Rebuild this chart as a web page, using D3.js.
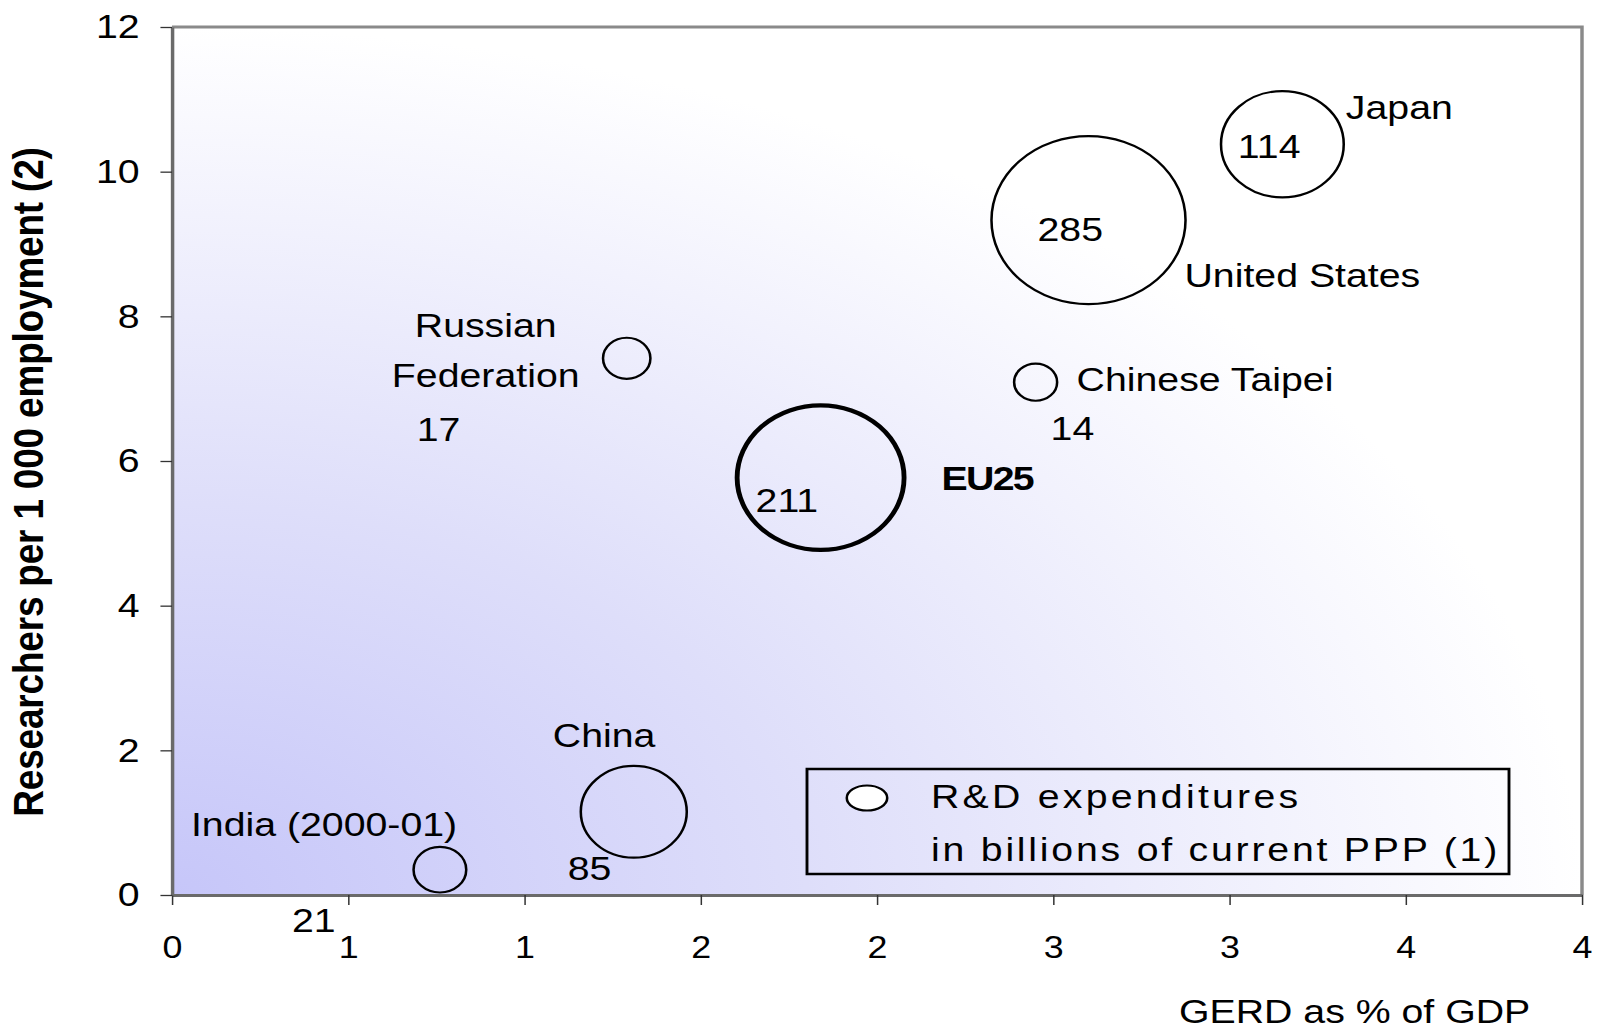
<!DOCTYPE html>
<html>
<head>
<meta charset="utf-8">
<script src="https://cdn.jsdelivr.net/npm/d3@7"></script>
<style>
  body { margin: 0; background: #ffffff; }
  svg { display: block; }
  text { font-family: "Liberation Sans", Arial, sans-serif; fill: #000; }
</style>
</head>
<body>
<div id="chart"></div>
<script>
// data
var countries   = ["India (2000-01)", "China", "Russian Federation", "EU25", "Chinese Taipei", "United States", "Japan"];
var gerd        = [0.76, 1.31, 1.29, 1.84, 2.45, 2.60, 3.15];   // GERD as % of GDP
var researchers = [0.35, 1.15, 7.42, 5.77, 7.09, 9.33, 10.38];  // per 1 000 employment
var rdSpend     = [21, 85, 17, 211, 14, 285, 114];              // billions of current PPP

var xTickValues = [0, 0.5, 1, 1.5, 2, 2.5, 3, 3.5, 4];
var xTickLabels = ["0", "1", "1", "2", "2", "3", "3", "4", "4"];
var yTickValues = [0, 2, 4, 6, 8, 10, 12];

var data = countries.map(function(c, i) {
  return {name: c, x: gerd[i], y: researchers[i], v: rdSpend[i]};
});

// the original picture is stretched sideways, so we draw in a narrower
// user space and let the viewBox stretch it back out
var W = 1599, H = 1031, S = 1.155;

var svg = d3.select("#chart").append("svg")
  .attr("width", W)
  .attr("height", H)
  .attr("viewBox", "0 0 " + (W / S) + " " + H)
  .attr("preserveAspectRatio", "none");

var x = d3.scaleLinear().domain([0, 4]).range([172 / S, 1582 / S]);
var y = d3.scaleLinear().domain([0, 12]).range([895, 27]);
var r = d3.scaleSqrt().domain([0, 285]).range([0, 84]);

// background gradient, from the bottom-left corner
var defs = svg.append("defs");
var grad = defs.append("radialGradient")
  .attr("id", "bg")
  .attr("cx", 0).attr("cy", 1).attr("r", 1)
  .attr("fx", 0).attr("fy", 1);
grad.append("stop").attr("offset", "0%").attr("stop-color", "#c6c6f9");
grad.append("stop").attr("offset", "45%").attr("stop-color", "#dedefa");
grad.append("stop").attr("offset", "100%").attr("stop-color", "#ffffff");

svg.append("rect")
  .attr("x", x(0)).attr("y", y(12))
  .attr("width", x(4) - x(0)).attr("height", y(0) - y(12))
  .attr("fill", "url(#bg)");

// top and right border of plot area
svg.append("path")
  .attr("d", "M" + x(0) + "," + y(12) + "H" + x(4) + "V" + y(0))
  .attr("fill", "none")
  .attr("stroke", "#8a8a8a")
  .attr("stroke-width", 3);

// axes
var xAxis = svg.append("g")
  .attr("transform", "translate(0," + y(0) + ")")
  .call(d3.axisBottom(x).tickValues(xTickValues)
    .tickFormat(function(d, i) { return xTickLabels[i]; })
    .tickSize(10).tickSizeOuter(0));
xAxis.select(".domain").attr("stroke", "#6a6a6a").attr("stroke-width", 3);
xAxis.selectAll(".tick line").attr("stroke", "#333").attr("stroke-width", 1.3);
xAxis.selectAll("text")
  .attr("y", 63).attr("dy", 0)
  .style("font-size", "31px")
  .style("font-family", "'Liberation Sans', Arial, sans-serif")
  .attr("fill", "#000");

var yAxis = svg.append("g")
  .attr("transform", "translate(" + x(0) + ",0)")
  .call(d3.axisLeft(y).tickValues(yTickValues)
    .tickSize(10).tickPadding(18).tickSizeOuter(0));
yAxis.select(".domain").attr("stroke", "#6a6a6a").attr("stroke-width", 3);
yAxis.selectAll(".tick line").attr("stroke", "#333").attr("stroke-width", 1.3);
yAxis.selectAll("text")
  .style("font-size", "34px")
  .style("font-family", "'Liberation Sans', Arial, sans-serif")
  .attr("fill", "#000");

// axis titles
svg.append("text")
  .attr("transform", "translate(" + (43 / S) + ",482) rotate(-90)")
  .attr("text-anchor", "middle")
  .style("font-size", "37px")
  .style("font-weight", "bold")
  .style("letter-spacing", "-0.2px")
  .text("Researchers per 1 000 employment (2)");

svg.append("text")
  .attr("x", 1179 / S).attr("y", 1023)
  .style("font-size", "34px")
  .text("GERD as % of GDP");

// bubbles
svg.selectAll("circle.bubble")
  .data(data)
  .enter()
  .append("circle")
    .attr("class", "bubble")
    .attr("cx", function(d) { return x(d.x); })
    .attr("cy", function(d) { return y(d.y); })
    .attr("r", function(d) { return r(d.v); })
    .attr("fill", "none")
    .attr("stroke", "#000")
    .attr("stroke-width", function(d) { return d.name == "EU25" ? 4.2 : 2.2; });

// hand placed labels, offsets in screen pixels from the bubble centre
var labelPos = {
  "India (2000-01)":    {name: [-249, -34], value: [-148, 62]},
  "China":              {name: [-81, -65],  value: [-66, 68]},
  "Russian Federation": {name: [-141, -21], value: [-210, 83], lines: ["Russian", "Federation"]},
  "EU25":               {name: [121, 12],   value: [-65, 34], bold: true},
  "Chinese Taipei":     {name: [41, 9],     value: [15, 58]},
  "United States":      {name: [96, 67],    value: [-51, 21]},
  "Japan":              {name: [63.5, -25], value: [-44.5, 14]}
};

var labels = svg.append("g").style("font-size", "34px");

data.forEach(function(d) {
  var p = labelPos[d.name];
  var cx = x(d.x), cy = y(d.y);
  if (p.lines) {
    p.lines.forEach(function(line, k) {
      labels.append("text")
        .attr("x", cx + p.name[0] / S)
        .attr("y", cy + p.name[1] + k * 50)
        .attr("text-anchor", "middle")
        .text(line);
    });
  } else {
    var t = labels.append("text")
      .attr("x", cx + p.name[0] / S)
      .attr("y", cy + p.name[1])
      .text(d.name);
    if (p.bold) t.style("font-weight", "bold").style("letter-spacing", "-1.5px");
  }
  labels.append("text")
    .attr("x", cx + p.value[0] / S)
    .attr("y", cy + p.value[1])
    .text(d.v);
});

// legend
var legend = svg.append("g");
legend.append("rect")
  .attr("x", 807 / S).attr("y", 769)
  .attr("width", (1509 - 807) / S).attr("height", 105)
  .attr("fill", "none")
  .attr("stroke", "#000")
  .attr("stroke-width", 2.5);
legend.append("ellipse")
  .attr("cx", 867 / S).attr("cy", 798)
  .attr("rx", 17.5).attr("ry", 12.5)
  .attr("fill", "#fff")
  .attr("stroke", "#000")
  .attr("stroke-width", 2.2);
legend.selectAll("text.leg")
  .data(["R&D expenditures", "in billions of current PPP (1)"])
  .enter()
  .append("text")
    .attr("class", "leg")
    .attr("x", 931 / S)
    .attr("y", function(d, i) { return 808 + i * 53; })
    .style("font-size", "34px")
    .style("letter-spacing", function(d, i) { return i == 0 ? "2.8px" : "2.4px"; })
    .text(function(d) { return d; });
</script>
</body>
</html>
